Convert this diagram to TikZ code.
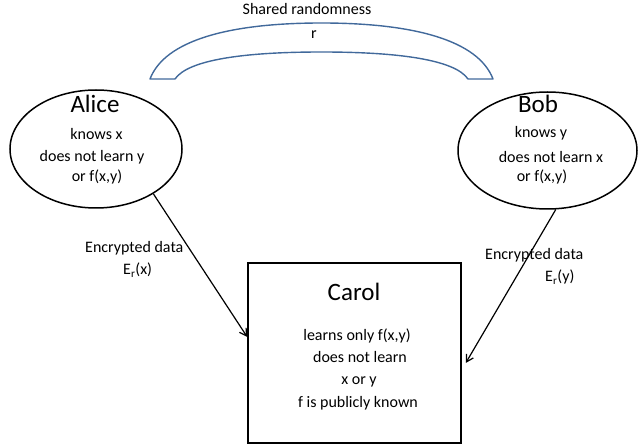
\documentclass[tikz,border=0pt]{standalone}
\usepackage{fontspec}
\setmainfont{Carlito}
\usetikzlibrary{shapes.geometric,arrows.meta,calc}
\definecolor{arcblue}{HTML}{41699B}
\begin{document}
\begin{tikzpicture}[x=1pt,y=-1pt,
  txt/.style={font=\fontsize{16}{19}\selectfont, inner sep=0pt, anchor=base},
  txtw/.style={font=\fontsize{16}{19}\selectfont, inner sep=0pt, anchor=base west},
  bigname/.style={font=\fontsize{25}{30}\selectfont, inner sep=0pt, anchor=base},
  party/.style={draw, ellipse, line width=1.5pt, inner sep=0pt},
  cbox/.style={draw, rectangle, line width=1.5pt, inner sep=0pt},
  flow/.style={-{Straight Barb[length=7pt,width=8pt]}, line width=1.2pt}]
\useasboundingbox (0,0) rectangle (641,446);
% shared randomness band
\draw[arcblue, line width=1.4pt, line join=round]
  (150,79) .. controls (165,40) and (230,23) .. (321.5,23)
           .. controls (413,23) and (478,40) .. (493,79)
  -- (468,79) .. controls (455,60) and (400,52) .. (321.5,52)
           .. controls (243,52) and (188,60) .. (175,79) -- cycle;
\node[txt] (shared) at (307,15) {Shared randomness};
\node[txt] (r) at (314,39) {r};
% parties
\node[party, minimum width=172pt, minimum height=118pt] (alice) at (96,149) {};
\node[party, minimum width=179pt, minimum height=117pt] (bob) at (547.5,150.5) {};
\node[cbox, minimum width=213pt, minimum height=180pt] (carol) at (354.5,353) {};
% Alice text
\node[bigname] (aliceT) at (95,113) {Alice};
\node[txt] (a1) at (96.5,140) {knows x};
\node[txt] (a2) at (92,162) {does not learn y};
\node[txt] (a3) at (97,182) {or f(x,y)};
% Bob text
\node[bigname] (bobT) at (538,113) {Bob};
\node[txt] (b1) at (541,138) {knows y};
\node[txt] (b2) at (551,163) {does not learn x};
\node[txt] (b3) at (542,182) {or f(x,y)};
% Carol text
\node[bigname] (carolT) at (354,301) {Carol};
\node[txt] (c1) at (357,341) {learns only f(x,y)};
\node[txt] (c2) at (360,363) {does not learn};
\node[txt] (c3) at (359,385) {x or y};
\node[txt] (c4) at (358,408) {f is publicly known};
% connectors
\draw[flow] (alice.-38) -- ($(carol.west)+(0,-16)$);
\draw[flow] (bob.-82) -- ($(carol.east)+(4,10)$);
% labels
\node[txtw] (encA) at (85,253) {Encrypted data};
\node[txtw] (erA) at (123,275) {E\textsubscript{r}(x)};
\node[txtw] (encB) at (485,260) {Encrypted data};
\node[txtw] (erB) at (545,282) {E\textsubscript{r}(y)};
\end{tikzpicture}
\end{document}
